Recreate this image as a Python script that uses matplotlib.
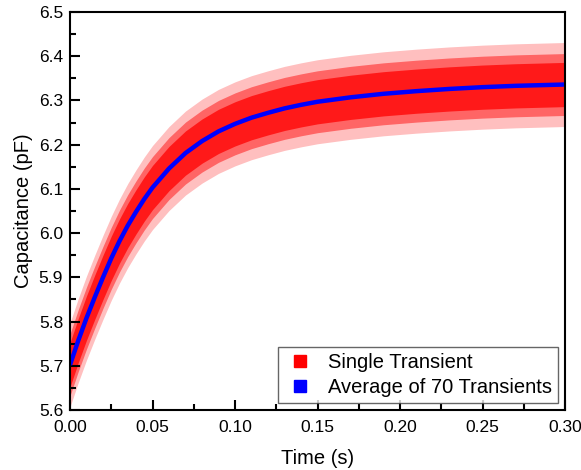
import matplotlib
matplotlib.use("Agg")
import matplotlib.pyplot as plt
from matplotlib.lines import Line2D
from matplotlib.ticker import MultipleLocator
import numpy as np

plt.rcParams['font.family'] = ['Liberation Sans', 'DejaVu Sans']

# averaged transient
time_s = [0.000, 0.005, 0.010, 0.015, 0.020, 0.025, 0.030, 0.035, 0.040, 0.045,
          0.050, 0.060, 0.070, 0.080, 0.090, 0.100, 0.110, 0.120, 0.130, 0.140,
          0.150, 0.170, 0.190, 0.210, 0.230, 0.250, 0.270, 0.300]
avg_pf = [5.702, 5.757, 5.808, 5.855, 5.900, 5.943, 5.982, 6.017, 6.048, 6.077,
          6.103, 6.146, 6.181, 6.208, 6.230, 6.247, 6.261, 6.272, 6.282, 6.290,
          6.297, 6.307, 6.315, 6.321, 6.326, 6.330, 6.333, 6.336]

# spread of the single transient around the average (pF): dense core, body, outliers
single_spread = [0.050, 0.070, 0.095]
single_alpha = [0.25, 0.47, 0.75]

t = np.array(time_s)
c = np.array(avg_pf)

fig = plt.figure(figsize=(5.81, 4.70), dpi=100)
ax = fig.add_axes([0.1205, 0.1277, 0.852, 0.8468])

for s, a in zip(single_spread[::-1], single_alpha):
    ax.fill_between(t, c - s, c + s, color='#ff0000', alpha=a, lw=0)

ax.plot(t, c, color='#0000ff', lw=3.2, solid_capstyle='butt')

ax.set_xlim(0, 0.30)
ax.set_ylim(5.6, 6.5)
ax.xaxis.set_major_locator(MultipleLocator(0.05))
ax.xaxis.set_minor_locator(MultipleLocator(0.025))
ax.yaxis.set_major_locator(MultipleLocator(0.1))
ax.yaxis.set_minor_locator(MultipleLocator(0.05))
ax.xaxis.set_major_formatter(plt.FuncFormatter(lambda v, p: f"{v:.2f}"))
ax.yaxis.set_major_formatter(plt.FuncFormatter(lambda v, p: f"{v:.1f}"))

ax.tick_params(which='both', direction='in', width=1.5, labelsize=12.5)
ax.tick_params(axis='x', which='major', length=7, pad=7)
ax.tick_params(axis='y', which='major', length=7, pad=5)
ax.tick_params(which='minor', length=4)
for sp in ax.spines.values():
    sp.set_linewidth(1.5)

ax.set_xlabel("Time (s)", fontsize=14.5, labelpad=10)
ax.set_ylabel("Capacitance (pF)", fontsize=14.5, labelpad=4)

handles = [Line2D([], [], ls='none', marker='s', markersize=8, color='#ff0000'),
           Line2D([], [], ls='none', marker='s', markersize=8, color='#0000ff')]
leg = ax.legend(handles, ["Single Transient", "Average of 70 Transients"],
                loc='lower right', fontsize=14.5, frameon=True, fancybox=False,
                borderaxespad=0.35, handletextpad=0.6, labelspacing=0.3,
                borderpad=0.3, handlelength=1.6)
leg.get_frame().set_edgecolor('#404040')
leg.get_frame().set_linewidth(1.0)

fig.savefig("out.png", dpi=100)
